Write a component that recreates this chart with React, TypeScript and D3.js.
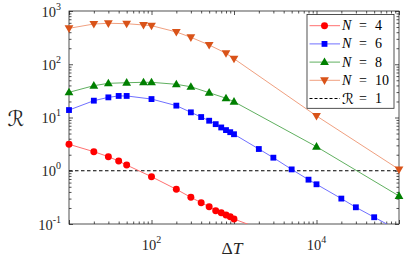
import * as d3 from 'd3';
import { useRef, useEffect } from 'react';

// (log-log)
const deltaT4 = [10, 20, 30, 40, 50, 100, 200, 300, 400, 500, 600, 700, 800, 900, 1000, 2000];
const ratio4 = [3.14, 2.28, 1.84, 1.52, 1.28, 0.773, 0.448, 0.317, 0.251, 0.211, 0.178, 0.163, 0.148, 0.137, 0.124, 0.083];

const deltaT6 = [10, 20, 30, 40, 50, 100, 200, 300, 400, 500, 600, 700, 800, 900, 1000, 2000, 3000, 5000, 8000, 1e4, 2e4, 3e4, 5e4, 1e5];
const ratio6 = [13.8, 20.7, 23.9, 25.4, 25.4, 22.2, 16.7, 12.5, 10.2, 8.7, 7.5, 6.5, 5.8, 5.3, 4.85, 2.56, 1.76, 1.06, 0.68, 0.557, 0.3, 0.206, 0.134, 0.075];

const deltaT8 = [10, 20, 30, 50, 80, 100, 200, 300, 500, 800, 1000, 1e4, 1e5];
const ratio8 = [29.7, 39.6, 43.8, 45, 45.8, 45.8, 42, 37.8, 29.2, 23, 19.8, 2.83, 0.336];

const deltaT10 = [10, 20, 30, 50, 80, 100, 200, 300, 500, 800, 1000, 1e4, 1e5];
const ratio10 = [473, 570, 588, 577, 546, 530, 404, 321, 230, 161, 127, 10.7, 1.06];

const legendN = ['4', '6', '8', '10'];
const xLabelTicks = [100, 1e4];
const yLabelTicks = [0.1, 1, 10, 100, 1000];

type Marker = 'circle' | 'square' | 'up' | 'down';

const series: { n: string; xs: number[]; ys: number[]; color: string; line: string; marker: Marker }[] = [
    { n: legendN[0], xs: deltaT4, ys: ratio4, color: '#ff0000', line: '#ff7070', marker: 'circle' },
    { n: legendN[1], xs: deltaT6, ys: ratio6, color: '#0000ff', line: '#7070ff', marker: 'square' },
    { n: legendN[2], xs: deltaT8, ys: ratio8, color: '#008000', line: '#60b060', marker: 'up' },
    { n: legendN[3], xs: deltaT10, ys: ratio10, color: '#d95319', line: '#f0a080', marker: 'down' },
];

const serif = "'Liberation Serif', 'DejaVu Serif', serif";
const scriptFont = "'DejaVu Serif', 'DejaVu Sans', serif";
const axisColor = '#262626';

function markerPath(m: Marker) {
    if (m === 'circle') return d3.symbol(d3.symbolCircle, 38)();
    if (m === 'square') return d3.symbol(d3.symbolSquare, 34)();
    if (m === 'up') return 'M0,-4.6L4.4,3L-4.4,3Z';
    return 'M0,4.6L4.4,-3L-4.4,-3Z';
}

export default function App() {
    const svgRef = useRef<SVGSVGElement>(null);

    useEffect(() => {
        if (!svgRef.current) return;
        const svg = d3.select(svgRef.current);
        svg.selectAll('*').remove();

        const left = 69, right = 399, top = 11, bottom = 224;

        const x = d3.scaleLog().domain([10, 1e5]).range([left, right]);
        const y = d3.scaleLog().domain([0.1, 1000]).range([bottom, top]);

        svg.append('rect').attr('width', 415).attr('height', 261).attr('fill', '#fff');

        const defs = svg.append('defs');
        defs.append('clipPath').attr('id', 'plot-clip')
            .append('rect')
            .attr('x', left).attr('y', top)
            .attr('width', right - left).attr('height', bottom - top);

        // minor / major tick values
        const xMinor: number[] = [];
        for (let e = 1; e < 5; e++) for (let k = 2; k <= 9; k++) xMinor.push(k * 10 ** e);
        const xMajor = [10, 100, 1000, 1e4, 1e5];
        const yMinor: number[] = [];
        for (let e = -1; e < 3; e++) for (let k = 2; k <= 9; k++) yMinor.push(k * 10 ** e);
        const yMajor = yLabelTicks;

        const tickAxis = (g: any) => {
            g.select('.domain').remove();
            g.selectAll('line').attr('stroke', axisColor).attr('stroke-width', 0.8);
        };

        // bottom + top
        svg.append('g').attr('transform', `translate(0,${bottom})`)
            .call(d3.axisBottom(x).tickValues(xMinor).tickSize(-2.5).tickFormat(() => '')).call(tickAxis);
        svg.append('g').attr('transform', `translate(0,${bottom})`)
            .call(d3.axisBottom(x).tickValues(xMajor).tickSize(-4).tickFormat(() => '')).call(tickAxis);
        svg.append('g').attr('transform', `translate(0,${top})`)
            .call(d3.axisTop(x).tickValues(xMinor).tickSize(-2.5).tickFormat(() => '')).call(tickAxis);
        svg.append('g').attr('transform', `translate(0,${top})`)
            .call(d3.axisTop(x).tickValues(xMajor).tickSize(-4).tickFormat(() => '')).call(tickAxis);
        // left + right
        svg.append('g').attr('transform', `translate(${left},0)`)
            .call(d3.axisLeft(y).tickValues(yMinor).tickSize(-2.5).tickFormat(() => '')).call(tickAxis);
        svg.append('g').attr('transform', `translate(${left},0)`)
            .call(d3.axisLeft(y).tickValues(yMajor).tickSize(-4).tickFormat(() => '')).call(tickAxis);
        svg.append('g').attr('transform', `translate(${right},0)`)
            .call(d3.axisRight(y).tickValues(yMinor).tickSize(-2.5).tickFormat(() => '')).call(tickAxis);
        svg.append('g').attr('transform', `translate(${right},0)`)
            .call(d3.axisRight(y).tickValues(yMajor).tickSize(-4).tickFormat(() => '')).call(tickAxis);

        // box
        svg.append('rect')
            .attr('x', left).attr('y', top)
            .attr('width', right - left).attr('height', bottom - top)
            .attr('fill', 'none').attr('stroke', axisColor).attr('stroke-width', 0.8);

        // tick labels
        xLabelTicks.forEach(v => {
            const t = svg.append('text')
                .attr('x', x(v)).attr('y', 250)
                .attr('text-anchor', 'middle')
                .attr('font-family', serif).attr('font-size', 14.5).attr('fill', axisColor)
                .text('10');
            t.append('tspan').attr('dy', -7).attr('font-size', 10).text(String(Math.round(Math.log10(v))));
        });
        yLabelTicks.forEach(v => {
            const t = svg.append('text')
                .attr('x', 61).attr('y', y(v) + 5.5)
                .attr('text-anchor', 'end')
                .attr('font-family', serif).attr('font-size', 14.5).attr('fill', axisColor)
                .text('10');
            t.append('tspan').attr('dy', -7).attr('font-size', 10).text(String(Math.round(Math.log10(v))));
        });

        // axis titles
        const xt = svg.append('text')
            .attr('x', 232).attr('y', 254)
            .attr('text-anchor', 'middle')
            .attr('font-family', serif).attr('font-size', 17.5).attr('fill', axisColor)
            .text('Δ');
        xt.append('tspan').attr('font-style', 'italic').text('T');

        svg.append('text')
            .attr('x', 16).attr('y', 126)
            .attr('text-anchor', 'middle')
            .attr('font-family', scriptFont).attr('font-size', 21).attr('fill', axisColor)
            .text('ℛ');

        // R = 1 reference line
        svg.append('line')
            .attr('x1', left).attr('x2', right)
            .attr('y1', y(1)).attr('y2', y(1))
            .attr('stroke', '#000').attr('stroke-width', 1.1).attr('stroke-dasharray', '3.5,2.5');

        const plot = svg.append('g');
        const lineGen = d3.line<[number, number]>().x(d => x(d[0])).y(d => y(d[1]));

        series.forEach(s => {
            const pts = s.xs.map((v, i) => [v, s.ys[i]] as [number, number]);
            plot.append('path')
                .attr('clip-path', 'url(#plot-clip)')
                .attr('d', lineGen(pts))
                .attr('fill', 'none').attr('stroke', s.line).attr('stroke-width', 1);
            plot.selectAll(null)
                .data(pts.filter(p => p[1] >= 0.1 && p[1] <= 1000))
                .enter()
                .append('path')
                .attr('transform', d => `translate(${x(d[0])},${y(d[1])})`)
                .attr('d', markerPath(s.marker))
                .attr('fill', s.color);
        });

        // legend
        const lg = svg.append('g');
        lg.append('rect')
            .attr('x', 307).attr('y', 14.5).attr('width', 87).attr('height', 93.8)
            .attr('fill', '#fff').attr('stroke', axisColor).attr('stroke-width', 0.8);
        const rowY = (i: number) => 25.7 + i * 18.2;
        series.forEach((s, i) => {
            lg.append('line')
                .attr('x1', 309.5).attr('x2', 340).attr('y1', rowY(i)).attr('y2', rowY(i))
                .attr('stroke', s.line).attr('stroke-width', 1);
            lg.append('path')
                .attr('transform', `translate(324.5,${rowY(i)})`)
                .attr('d', markerPath(s.marker))
                .attr('fill', s.color);
            lg.append('text').attr('x', 342).attr('y', rowY(i) + 4.5)
                .attr('font-family', serif).attr('font-size', 14).attr('font-style', 'italic').attr('fill', '#000')
                .text('N');
            lg.append('text').attr('x', 359).attr('y', rowY(i) + 4.5)
                .attr('font-family', serif).attr('font-size', 14).attr('fill', '#000')
                .text('=');
            lg.append('text').attr('x', 375).attr('y', rowY(i) + 4.5)
                .attr('font-family', serif).attr('font-size', 14).attr('fill', '#000')
                .text(s.n);
        });
        const ry = rowY(4);
        lg.append('line')
            .attr('x1', 309.5).attr('x2', 340).attr('y1', ry).attr('y2', ry)
            .attr('stroke', '#000').attr('stroke-width', 1).attr('stroke-dasharray', '3,2');
        lg.append('text').attr('x', 342).attr('y', ry + 5)
            .attr('font-family', scriptFont).attr('font-size', 15).attr('fill', '#000')
            .text('ℛ');
        lg.append('text').attr('x', 359).attr('y', ry + 4.5)
            .attr('font-family', serif).attr('font-size', 14).attr('fill', '#000')
            .text('=');
        lg.append('text').attr('x', 375).attr('y', ry + 4.5)
            .attr('font-family', serif).attr('font-size', 14).attr('fill', '#000')
            .text('1');
    }, []);

    return (
        <svg
            ref={svgRef}
            width={415}
            height={261}
            style={{ position: 'absolute', left: 0, top: 0 }}
        />
    );
}
